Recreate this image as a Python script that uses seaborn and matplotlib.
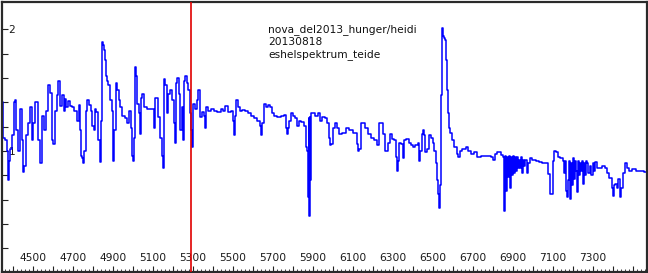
import numpy as np
import pandas as pd
import matplotlib
matplotlib.use("Agg")
import matplotlib.pyplot as plt
from matplotlib.ticker import MultipleLocator, FixedLocator, FuncFormatter
import seaborn as sns

# ---- data ----
wavelength = [
    4348, 4353, 4363, 4373, 4378, 4383, 4388, 4398, 4408, 4413, 4418, 4428, 4438, 4448, 4453, 4458,
    4468, 4478, 4488, 4498, 4503, 4518, 4528, 4538, 4548, 4558, 4568, 4578, 4588, 4598, 4603, 4613,
    4623, 4628, 4638, 4648, 4658, 4663, 4668, 4678, 4688, 4698, 4713, 4723, 4733, 4738, 4743, 4748,
    4753, 4758, 4768, 4773, 4783, 4793, 4798, 4808, 4813, 4818, 4828, 4838, 4843, 4848, 4853, 4858,
    4863, 4868, 4873, 4878, 4888, 4898, 4903, 4908, 4918, 4923, 4933, 4938, 4953, 4963, 4973, 4983,
    4993, 4998, 5003, 5008, 5013, 5018, 5023, 5033, 5035, 5043, 5048, 5063, 5078, 5098, 5108, 5113,
    5118, 5128, 5138, 5148, 5153, 5158, 5163, 5173, 5178, 5188, 5203, 5208, 5213, 5218, 5223, 5233,
    5238, 5248, 5253, 5258, 5263, 5273, 5278, 5288, 5293, 5298, 5303, 5313, 5323, 5328, 5338, 5348,
    5358, 5363, 5368, 5378, 5398, 5413, 5428, 5448, 5453, 5468, 5478, 5498, 5503, 5508, 5513, 5518,
    5528, 5538, 5553, 5568, 5578, 5598, 5613, 5628, 5638, 5643, 5648, 5658, 5668, 5678, 5693, 5698,
    5713, 5728, 5748, 5758, 5768, 5773, 5778, 5783, 5793, 5803, 5818, 5823, 5833, 5848, 5863, 5868,
    5873, 5878, 5880, 5883, 5885, 5888, 5890, 5903, 5918, 5928, 5938, 5953, 5968, 5973, 5983, 5988,
    5993, 6003, 6013, 6023, 6033, 6053, 6073, 6088, 6113, 6123, 6128, 6133, 6143, 6153, 6168, 6178,
    6198, 6213, 6223, 6233, 6243, 6253, 6268, 6278, 6288, 6298, 6308, 6318, 6323, 6328, 6333, 6348,
    6353, 6358, 6373, 6383, 6393, 6403, 6418, 6428, 6433, 6438, 6448, 6453, 6458, 6463, 6473, 6483,
    6493, 6503, 6508, 6518, 6523, 6528, 6533, 6538, 6540, 6543, 6545, 6548, 6553, 6558, 6563, 6568,
    6573, 6578, 6583, 6588, 6598, 6613, 6623, 6628, 6638, 6653, 6673, 6678, 6698, 6713, 6728, 6748,
    6763, 6778, 6798, 6803, 6813, 6828, 6848, 6853, 6858, 6863, 6868, 6873, 6878, 6883, 6888, 6893,
    6898, 6903, 6908, 6913, 6918, 6923, 6928, 6933, 6938, 6943, 6948, 6953, 6958, 6963, 6973, 6978,
    6988, 7003, 7023, 7038, 7053, 7073, 7078, 7088, 7098, 7103, 7108, 7118, 7128, 7138, 7148, 7153,
    7158, 7163, 7168, 7173, 7178, 7183, 7188, 7193, 7198, 7203, 7208, 7213, 7218, 7223, 7228, 7233,
    7238, 7243, 7248, 7253, 7258, 7263, 7268, 7273, 7278, 7288, 7293, 7303, 7308, 7313, 7323, 7338,
    7353, 7363, 7373, 7388, 7398, 7403, 7408, 7413, 7423, 7428, 7438, 7443, 7453, 7463, 7473, 7488,
    7503, 7523, 7543, 7563,
]
flux = [
    1.40, 1.11, 1.09, 1.00, 0.76, 0.92, 1.02, 1.13, 1.40, 1.42, 1.17, 1.00, 1.35, 1.09, 0.83, 0.88,
    1.13, 1.23, 1.36, 1.09, 1.23, 1.40, 1.09, 0.90, 1.29, 1.17, 1.33, 1.54, 1.48, 1.09, 1.06, 1.33,
    1.46, 1.58, 1.37, 1.46, 1.33, 1.43, 1.36, 1.41, 1.37, 1.36, 1.33, 1.25, 1.38, 1.17, 0.96, 0.94,
    0.90, 1.00, 1.33, 1.42, 1.38, 1.33, 1.21, 1.17, 1.35, 1.32, 1.09, 0.91, 1.25, 1.90, 1.87, 1.83,
    1.75, 1.62, 1.58, 1.54, 1.42, 1.33, 0.92, 1.17, 1.56, 1.50, 1.42, 1.36, 1.29, 1.27, 1.23, 1.33,
    1.19, 0.96, 0.92, 1.11, 1.69, 1.62, 1.39, 1.31, 1.14, 1.44, 1.47, 1.36, 1.35, 1.35, 1.19, 1.44,
    1.44, 1.28, 1.11, 0.96, 0.86, 1.59, 1.54, 1.31, 1.47, 1.50, 1.42, 1.23, 1.07, 1.56, 1.60, 1.47,
    1.17, 1.36, 1.09, 1.58, 1.62, 1.56, 1.50, 1.31, 1.17, 1.03, 1.39, 1.35, 1.42, 1.50, 1.28, 1.32,
    1.29, 1.19, 1.36, 1.33, 1.35, 1.33, 1.32, 1.35, 1.33, 1.37, 1.32, 1.33, 1.25, 1.13, 1.29, 1.42,
    1.36, 1.33, 1.34, 1.33, 1.31, 1.29, 1.27, 1.25, 1.21, 1.13, 1.23, 1.39, 1.36, 1.38, 1.36, 1.31,
    1.29, 1.28, 1.29, 1.30, 1.19, 1.14, 1.19, 1.25, 1.31, 1.29, 1.27, 1.21, 1.25, 1.24, 1.21, 1.03,
    1.00, 0.62, 1.27, 0.47, 1.28, 0.76, 1.31, 1.31, 1.29, 1.31, 1.25, 1.28, 1.27, 1.23, 1.11, 1.05,
    1.06, 1.19, 1.23, 1.19, 1.14, 1.15, 1.19, 1.17, 1.15, 1.06, 1.00, 1.02, 1.23, 1.23, 1.19, 1.14,
    1.11, 1.09, 1.05, 1.23, 1.23, 1.14, 1.00, 1.07, 1.14, 1.10, 1.09, 0.95, 0.84, 0.92, 1.07, 1.06,
    0.94, 1.09, 1.10, 1.07, 1.05, 1.03, 1.05, 1.07, 0.92, 1.00, 1.14, 1.17, 1.13, 0.99, 1.02, 1.13,
    1.11, 1.07, 1.00, 0.90, 0.76, 0.65, 0.53, 0.72, 1.16, 1.46, 1.99, 2.01, 1.95, 1.93, 1.91, 1.75,
    1.50, 1.31, 1.19, 1.15, 1.09, 1.03, 0.98, 0.95, 1.00, 1.02, 1.03, 1.00, 0.98, 0.99, 0.95, 0.96,
    0.96, 0.96, 0.95, 0.93, 0.98, 0.99, 0.97, 0.95, 0.51, 0.96, 0.67, 0.95, 0.79, 0.96, 0.70, 0.95,
    0.80, 0.96, 0.82, 0.95, 0.84, 0.95, 0.86, 0.93, 0.86, 0.95, 0.82, 0.93, 0.88, 0.93, 0.82, 0.90,
    0.94, 0.93, 0.92, 0.91, 0.90, 0.90, 0.81, 0.65, 0.65, 0.92, 1.00, 0.99, 0.95, 0.94, 0.94, 0.92,
    0.82, 0.92, 0.67, 0.62, 0.76, 0.92, 0.61, 0.90, 0.72, 0.94, 0.77, 0.92, 0.84, 0.66, 0.92, 0.80,
    0.90, 0.84, 0.92, 0.73, 0.90, 0.80, 0.92, 0.90, 0.82, 0.88, 0.80, 0.90, 0.84, 0.91, 0.86, 0.86,
    0.88, 0.86, 0.82, 0.78, 0.70, 0.63, 0.72, 0.73, 0.70, 0.77, 0.62, 0.70, 0.82, 0.90, 0.86, 0.84,
    0.85, 0.84, 0.84, 0.83,
]
marker_wavelength = 5288
x_ticks = [4500, 4700, 4900, 5100, 5300, 5500, 5700, 5900, 6100, 6300, 6500, 6700, 6900, 7100, 7300]
y_labels = {1.0: "1", 2.0: "2"}
info_lines = ["nova_del2013_hunger/heidi", "20130818", "eshelspektrum_teide"]

df = pd.DataFrame({"wavelength": wavelength, "flux": flux})

sns.set_style("white")
plt.rcParams["font.family"] = ["DejaVu Sans"]

fig = plt.figure(figsize=(6.48, 2.73), dpi=100)
ax = fig.add_axes([1.5 / 648, 1.5 / 273, 645 / 648, 270 / 273])

sns.lineplot(data=df, x="wavelength", y="flux", ax=ax, sort=False, estimator=None,
             color="#0000ff", linewidth=1.1, drawstyle="steps-mid")
ax.axvline(marker_wavelength, color="#e00000", linewidth=1.2, zorder=3)

ax.set_xlim(4343, 7568)
ax.set_ylim(0.01, 2.23)
ax.set_xlabel("")
ax.set_ylabel("")

# x ticks
ax.xaxis.set_major_locator(MultipleLocator(100))
ax.xaxis.set_minor_locator(MultipleLocator(20))
ax.xaxis.set_major_formatter(FuncFormatter(lambda v, p: f"{int(round(v))}" if int(round(v)) in x_ticks else ""))
ax.tick_params(axis="x", which="both", bottom=True, top=False)
ax.tick_params(axis="x", which="major", direction="in", length=4, width=0.8, color="#222222",
               pad=-6, labelsize=7.7, labelcolor="#1a1a1a")
ax.tick_params(axis="x", which="minor", direction="in", length=2, width=0.6, color="#222222")
for lab in ax.get_xticklabels():
    lab.set_verticalalignment("bottom")

# y ticks
yt = [round(0.2 * i, 1) for i in range(1, 11)]
ax.yaxis.set_major_locator(FixedLocator(yt))
ax.yaxis.set_major_formatter(FuncFormatter(lambda v, p: y_labels.get(round(v, 1), "")))
ax.tick_params(axis="y", which="major", left=True, right=False, direction="in", length=4,
               width=0.8, color="#222222", pad=-5, labelsize=7.7, labelcolor="#1a1a1a")
for lab in ax.get_yticklabels():
    lab.set_horizontalalignment("left")

for s in ax.spines.values():
    s.set_visible(True)
    s.set_color("#2a2a2a")
    s.set_linewidth(1.6)

ax.text(0.4135, 0.915, "\n".join(info_lines), transform=ax.transAxes, fontsize=7.7,
        color="#111111", va="top", ha="left", linespacing=1.25)

fig.savefig("out.png", dpi=100)
